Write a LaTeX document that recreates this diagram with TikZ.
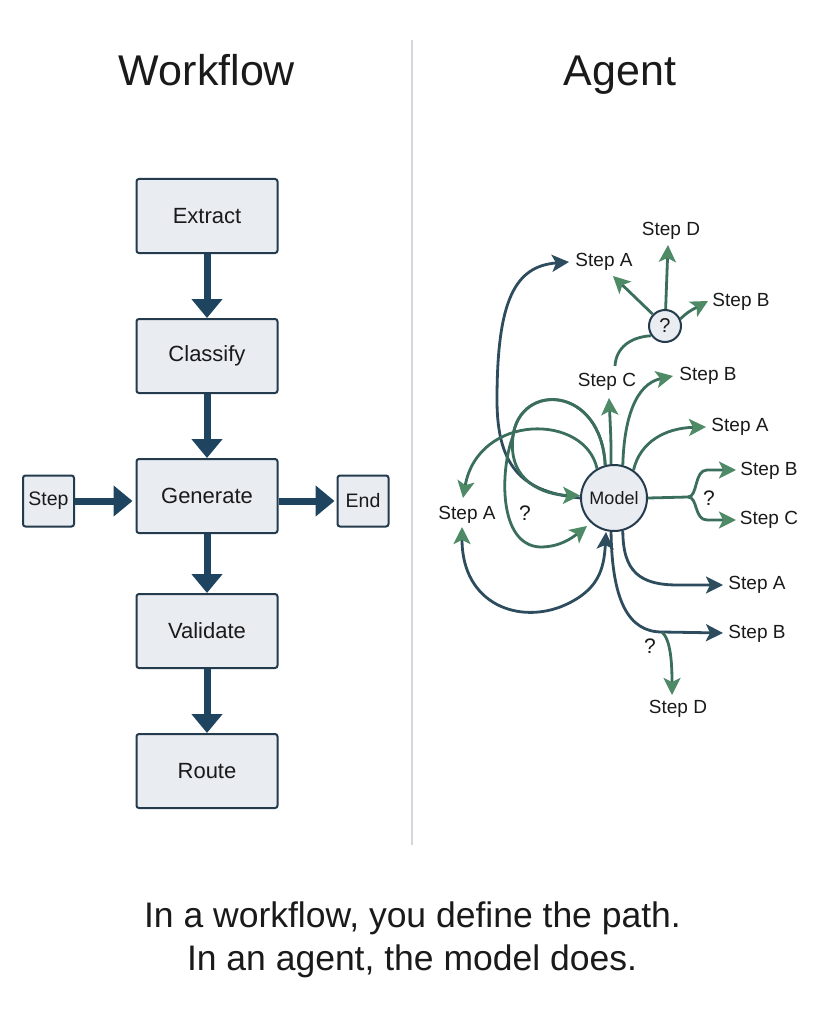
\documentclass[tikz,border=0pt]{standalone}
\usepackage{fontspec}
\setmainfont{Liberation Sans}
\usetikzlibrary{arrows.meta}
\definecolor{boxfill}{HTML}{E9EDF1}
\definecolor{boxdraw}{HTML}{243A4D}
\definecolor{wnavy}{HTML}{1F4460}
\definecolor{gline}{HTML}{3B6E5C}
\definecolor{ghead}{HTML}{4E8A66}
\definecolor{nline}{HTML}{2D4C5E}
\definecolor{divcol}{HTML}{D3D7DB}
\definecolor{txt}{HTML}{1A1A1A}
\begin{document}
\begin{tikzpicture}[x=1pt,y=-1pt,
  wbox/.style={draw=boxdraw, fill=boxfill, line width=2pt, rounded corners=2.5pt,
    minimum width=141pt, minimum height=74pt, inner sep=0pt, text=txt,
    font=\fontsize{22}{26}\selectfont},
  sbox/.style={wbox, minimum width=51pt, minimum height=51pt, font=\fontsize{19.5}{23}\selectfont},
  warrow/.style={draw=wnavy, line width=7pt, -{Triangle[length=19pt,width=30pt,color=wnavy]}},
  lbl/.style={font=\fontsize{19}{22}\selectfont, text=txt, inner sep=0pt},
  qlbl/.style={font=\fontsize{21}{24}\selectfont, text=txt, inner sep=0pt},
  gl/.style={draw=gline, line width=2.8pt},
  ga/.style={gl, -{Stealth[length=17pt,width=17pt,inset=4pt,color=ghead]}},
  na/.style={draw=nline, line width=2.8pt, -{Stealth[length=17pt,width=17pt,inset=4pt,color=nline]}},
  circ/.style={circle, draw=boxdraw, fill=boxfill, line width=2pt, inner sep=0pt, text=txt}
]
\useasboundingbox[fill=white] (0,0) rectangle (825,1024);

% titles
\node[anchor=base, text=txt, font=\fontsize{43}{50}\selectfont, inner sep=0pt] (t1) at (207,86) {Workflow};
\node[anchor=base, text=txt, font=\fontsize{43}{50}\selectfont, inner sep=0pt] (t2) at (620,86) {Agent};
\coordinate (d1) at (412,40);
\coordinate (d2) at (412,845);
\draw[divcol, line width=1.5pt] (d1) -- (d2);

% workflow
\node[wbox] (ext) at (207,216) {Extract};
\node[wbox] (cls) at (207,356) {Classify};
\node[wbox] (gen) at (207,496) {Generate};
\node[wbox] (val) at (207,631) {Validate};
\node[wbox] (rte) at (207,771) {Route};
\node[sbox] (stp) at (48.5,501) {Step};
\node[sbox] (end) at (363,501) {End};
\draw[warrow] (ext.south) -- (cls.north);
\draw[warrow] (cls.south) -- (gen.north);
\draw[warrow] (gen.south) -- (val.north);
\draw[warrow] (val.south) -- (rte.north);
\draw[warrow, shorten >=3pt] (stp.east) -- (stp.east -| gen.west);
\draw[warrow, shorten >=2pt] (gen.east |- end.west) -- (end.west);

% agent nodes
\node[circ, minimum size=66pt, font=\fontsize{18}{21}\selectfont] (M) at (614,498) {Model};
\node[circ, minimum size=32pt, font=\fontsize{20}{23}\selectfont] (Q) at (665,326) {?};

\node[lbl] (sD1) at (671,231) {Step D};
\node[lbl] (sA1) at (604,262) {Step A};
\node[lbl] (sB1) at (741,302) {Step B};
\node[lbl] (sC) at (607,382) {Step C};
\node[lbl] (sB2) at (708,376) {Step B};
\node[lbl] (sA2) at (740,427) {Step A};
\node[lbl] (sB3) at (769,471) {Step B};
\node[lbl] (sC3) at (769,520) {Step C};
\node[qlbl] (q1) at (709,498) {?};
\node[lbl] (sA4) at (757,585) {Step A};
\node[lbl] (sB4) at (757,634) {Step B};
\node[qlbl] (q2) at (650,646) {?};
\node[lbl] (sD4) at (678,709) {Step D};
\node[lbl] (sAL) at (467,515) {Step A};
\node[qlbl] (q3) at (525,513) {?};

% tips / free ends
\coordinate (tA1) at (613,276);
\coordinate (tD1) at (668,245);
\coordinate (tB1) at (708,301);
\coordinate (cTop) at (615,366);
\coordinate (tC) at (609,398);
\coordinate (tB2) at (673,376);
\coordinate (tA2) at (706,427);
\coordinate (fk) at (688,497);
\coordinate (tB3) at (736,470);
\coordinate (tC3) at (736,520);
\coordinate (tA4) at (723,585);
\coordinate (tB4) at (723,633);
\coordinate (br) at (662,632);
\coordinate (tD4) at (672,695);
\coordinate (tAL1) at (463,498);
\coordinate (tAL2) at (462,527);
\coordinate (tAtop) at (569,262);
\coordinate (tMb) at (587,526);
\coordinate (tMu) at (606,532);
\coordinate (sp) at (513,436);

% from the ? circle
\draw[ga] (Q) -- (tA1);
\draw[ga] (Q) -- (tD1);
\draw[ga] (Q.25) .. controls (688,312) .. (tB1);
\draw[gl] (cTop) .. controls (616,348) and (630,337) .. (Q.215);

% from the model, upwards and right
\draw[ga] (M.95) .. controls (611,440) .. (tC);
\draw[ga] (M.75) .. controls (624,420) and (635,384) .. (tB2);
\draw[ga] (M.55) .. controls (640,442) and (665,428) .. (tA2);
\draw[gl] (M.east) -- (fk);
\draw[ga] (fk) .. controls (698,497) and (694,470) .. (707,470) -- (tB3);
\draw[ga] (fk) .. controls (698,497) and (694,520) .. (707,520) -- (tC3);

% downwards
\draw[na] (M.285) .. controls (623,572) and (640,585) .. (678,585) -- (tA4);
\draw[na] (M.265) .. controls (612,600) and (628,632) .. (br) -- (tB4);
\draw[ga] (br) .. controls (671,640) and (672,665) .. (tD4);

% left side loops
\draw[na] (M.180) .. controls (525,492) and (497,470) .. (497,400)
  .. controls (497,300) and (515,266) .. (tAtop);
\draw[ga] (M.105) .. controls (601,385) and (520,382) .. (sp)
  .. controls (507,482) and (545,495) .. (M.176);
\draw[ga] (M.105) .. controls (601,385) and (520,382) .. (sp)
  .. controls (500,470) and (498,545) .. (540,547) .. controls (560,547) and (572,538) .. (tMb);
\draw[ga] (M.120) .. controls (585,413) and (478,413) .. (tAL1);
\draw[draw=nline, line width=2.8pt,
  {Stealth[length=17pt,width=17pt,inset=4pt,color=ghead]}-{Stealth[length=17pt,width=17pt,inset=4pt,color=nline]}]
  (tAL2) .. controls (462,605) and (520,625) .. (565,605)
  .. controls (598,590) and (604,570) .. (tMu);

% caption
\node[anchor=base, text=txt, font=\fontsize{35.5}{42}\selectfont, inner sep=0pt] (c1) at (412.5,927) {In a workflow, you define the path.};
\node[anchor=base, text=txt, font=\fontsize{35.5}{42}\selectfont, inner sep=0pt] (c2) at (412,970) {In an agent, the model does.};
\end{tikzpicture}
\end{document}
